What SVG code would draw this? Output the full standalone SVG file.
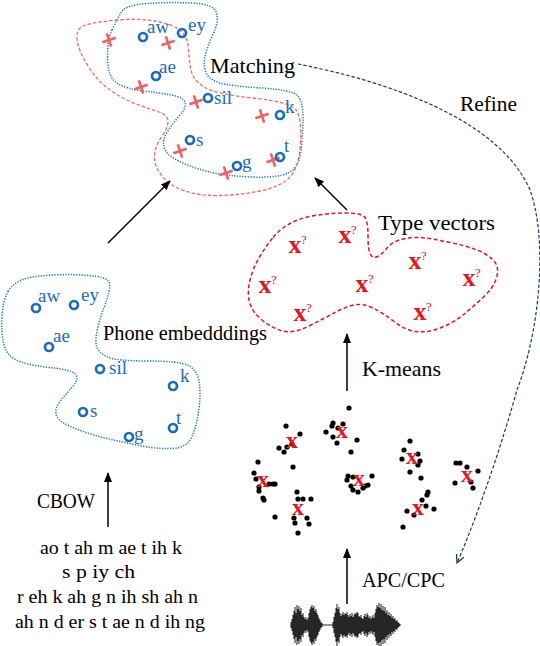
<svg xmlns="http://www.w3.org/2000/svg" width="540" height="646" viewBox="0 0 540 646">
<defs>
<style>
.lbl{font-family:"Liberation Serif","DejaVu Serif",serif;font-size:22px;fill:#000}
.ph{font-family:"Liberation Serif","DejaVu Serif",serif;font-size:19px;fill:#1a6bbd}
.seq{font-family:"Liberation Serif","DejaVu Serif",serif;font-size:18px;fill:#000}
.bo{fill:none;stroke:#1a6bbd;stroke-width:2.7}
.cr{fill:none;stroke:#ef615c;stroke-width:2.6}
.xm{font-family:"Liberation Serif","DejaVu Serif",serif;font-size:26px;font-weight:bold;fill:#e8141b;text-anchor:middle}
.q{font-family:"Liberation Serif","DejaVu Serif",serif;font-size:13px;fill:#e8141b}
.blueout{fill:none;stroke:#1a78c8;stroke-width:1.5;stroke-dasharray:1.3 1.4}
.redout{fill:none;stroke:#ef6a65;stroke-width:1.3;stroke-dasharray:3.5 2}
.tvout{fill:none;stroke:#e8141b;stroke-width:1.5;stroke-dasharray:4 2.5}
.arr{fill:none;stroke:#000;stroke-width:1.5}
.dot{fill:#000}
</style>
<marker id="ah" viewBox="0 0 10 10" refX="9" refY="5" markerWidth="10" markerHeight="10" markerUnits="userSpaceOnUse" orient="auto">
<path d="M0,1 L10,5 L0,9 z" fill="#000"/>
</marker>
<marker id="oh" viewBox="0 0 10 10" refX="9" refY="5" markerWidth="10" markerHeight="10" markerUnits="userSpaceOnUse" orient="auto">
<path d="M1,1 L9,5 L1,9" fill="none" stroke="#1f3864" stroke-width="1.3"/>
</marker>
<path id="crs" d="M-7,0H7M0,-7V7"/>
</defs>

<g id="matching-cluster">
<path class="blueout" d="M112,30 Q117,20 121,12.5 Q125,5 147.5,3.5 Q170,2 192,3 Q214,4 216.5,13 Q219,22 213,34.5 Q207,47 205,57 Q203,67 206.5,73.5 Q210,80 220,83 Q230,86 261.5,88 Q293,90 298,96 Q303,102 303,117.5 Q303,133 301,150.5 Q299,168 288,173 Q277,178 252,177 Q227,176 210,172 Q193,168 179.5,161.5 Q166,155 164,147.5 Q162,140 167.5,131.5 Q173,123 180,115 Q187,107 185,102 Q183,97 171.5,95 Q160,93 143.5,91 Q127,89 117.5,83.5 Q108,78 107.5,59 Q107,40 112,30 Z"/>
<path class="redout" d="M88,66 Q78,50 77,39 Q76,28 85.5,25 Q95,22 117.5,20 Q140,18 157.5,21.5 Q175,25 181.5,31.5 Q188,38 188.5,49 Q189,60 191,70 Q193,80 204,87 Q215,94 252.5,98 Q290,102 296,110 Q302,118 300.5,143 Q299,168 289.5,177.5 Q280,187 260,191 Q240,195 220,195.5 Q200,196 185,191 Q170,186 162,176 Q154,166 154.5,156 Q155,146 161.5,137 Q168,128 168,121.5 Q168,115 159,112 Q150,109 137.5,104.5 Q125,100 111.5,91 Q98,82 88,66 Z"/>
<use href="#crs" class="cr" transform="translate(109,40) rotate(-18)"/>
<use href="#crs" class="cr" transform="translate(168,43) rotate(-18)"/>
<use href="#crs" class="cr" transform="translate(141,87) rotate(-18)"/>
<use href="#crs" class="cr" transform="translate(196,102) rotate(-18)"/>
<use href="#crs" class="cr" transform="translate(262,116) rotate(-18)"/>
<use href="#crs" class="cr" transform="translate(180,151) rotate(-18)"/>
<use href="#crs" class="cr" transform="translate(226,173) rotate(-18)"/>
<use href="#crs" class="cr" transform="translate(273,160) rotate(-18)"/>
<circle class="bo" cx="143" cy="37" r="4"/><text class="ph" x="147" y="33">aw</text>
<circle class="bo" cx="182" cy="33" r="4"/><text class="ph" x="188" y="31">ey</text>
<circle class="bo" cx="156" cy="76" r="4"/><text class="ph" x="159" y="73">ae</text>
<circle class="bo" cx="208" cy="98" r="4"/><text class="ph" x="214" y="104">sil</text>
<circle class="bo" cx="280" cy="115" r="4"/><text class="ph" x="285" y="113">k</text>
<circle class="bo" cx="190" cy="140" r="4"/><text class="ph" x="196" y="146">s</text>
<circle class="bo" cx="237" cy="166" r="4"/><text class="ph" x="242" y="168">g</text>
<circle class="bo" cx="280" cy="157" r="4"/><text class="ph" x="284" y="152">t</text>
<text class="lbl" x="210" y="73" textLength="85" lengthAdjust="spacingAndGlyphs">Matching</text>
</g>

<g id="type-vectors">
<path class="tvout" d="M273,237.5 Q280,229 290,223.5 Q300,218 315,215.5 Q330,213 346,213 Q362,213 365,217.5 Q368,222 368,236 Q368,250 370.5,254.5 Q373,259 377.5,256.5 Q382,254 387,248 Q392,242 401,239.5 Q410,237 420,237.5 Q430,238 452.5,243 Q475,248 484.5,253.5 Q494,259 496.5,265 Q499,271 496,279.5 Q493,288 483,297.5 Q473,307 463,315 Q453,323 440,328 Q427,333 416,331.5 Q405,330 394,321.5 Q383,313 373,308 Q363,303 354,305 Q345,307 335,312.5 Q325,318 309,326 Q293,334 282.5,331 Q272,328 262,320 Q252,312 249.5,302 Q247,292 250,280 Q253,268 259.5,257 Q266,246 273,237.5 Z"/>
<text class="xm" x="295" y="253">x</text><text class="q" x="301" y="244">?</text>
<text class="xm" x="345" y="243">x</text><text class="q" x="351" y="234">?</text>
<text class="xm" x="415" y="269">x</text><text class="q" x="421" y="260">?</text>
<text class="xm" x="265" y="293">x</text><text class="q" x="271" y="284">?</text>
<text class="xm" x="362" y="292">x</text><text class="q" x="368" y="283">?</text>
<text class="xm" x="469" y="286">x</text><text class="q" x="475" y="277">?</text>
<text class="xm" x="300" y="321">x</text><text class="q" x="306" y="312">?</text>
<text class="xm" x="420" y="320">x</text><text class="q" x="426" y="311">?</text>
<text class="lbl" x="378" y="230" textLength="117" lengthAdjust="spacingAndGlyphs">Type vectors</text>
</g>

<g id="phone-embeddings">
<path class="blueout" d="M8,291.5 Q13,283 23,279.5 Q33,276 53,275 Q73,274 89,275.5 Q105,277 108,280.5 Q111,284 109,292 Q107,300 103.5,309 Q100,318 97.5,329 Q95,340 96.5,346 Q98,352 106.5,356.5 Q115,361 147.5,361 Q180,361 188.5,365.5 Q197,370 199,381 Q201,392 199,408.5 Q197,425 192,436.5 Q187,448 172,448.5 Q157,449 142,446 Q127,443 113.5,440 Q100,437 89,433.5 Q78,430 67.5,425 Q57,420 56,414 Q55,408 60,401.5 Q65,395 71,388.5 Q77,382 77,378 Q77,374 71,371.5 Q65,369 49,367.5 Q33,366 20,361.5 Q7,357 4,345 Q1,333 2,316.5 Q3,300 8,291.5 Z"/>
<circle class="bo" cx="36" cy="308" r="4"/><text class="ph" x="38" y="302">aw</text>
<circle class="bo" cx="74" cy="305" r="4"/><text class="ph" x="81" y="301">ey</text>
<circle class="bo" cx="49" cy="347" r="4"/><text class="ph" x="53" y="342">ae</text>
<circle class="bo" cx="100" cy="369" r="4"/><text class="ph" x="109" y="374">sil</text>
<circle class="bo" cx="173" cy="386" r="4"/><text class="ph" x="180" y="382">k</text>
<circle class="bo" cx="83" cy="412" r="4"/><text class="ph" x="90" y="417">s</text>
<circle class="bo" cx="129" cy="437" r="4"/><text class="ph" x="134" y="440">g</text>
<circle class="bo" cx="173" cy="428" r="4"/><text class="ph" x="176" y="424">t</text>
<text class="lbl" x="103" y="340" style="font-size:20px" textLength="164" lengthAdjust="spacingAndGlyphs">Phone embedddings</text>
</g>

<g id="kmeans-scatter">
<circle class="dot" cx="349" cy="408" r="2.6"/><circle class="dot" cx="286" cy="426" r="2.6"/><circle class="dot" cx="300" cy="434" r="2.6"/><circle class="dot" cx="279" cy="448" r="2.6"/><circle class="dot" cx="284" cy="452" r="2.6"/><circle class="dot" cx="287" cy="447" r="2.6"/><circle class="dot" cx="292" cy="444" r="2.6"/><circle class="dot" cx="293" cy="467" r="2.6"/>
<circle class="dot" cx="258" cy="462" r="2.6"/><circle class="dot" cx="254" cy="473" r="2.6"/><circle class="dot" cx="256" cy="479" r="2.6"/><circle class="dot" cx="259" cy="487" r="2.6"/><circle class="dot" cx="259" cy="491" r="2.6"/><circle class="dot" cx="263" cy="498" r="2.6"/><circle class="dot" cx="264" cy="500" r="2.6"/><circle class="dot" cx="269" cy="484" r="2.6"/><circle class="dot" cx="273" cy="484" r="2.6"/><circle class="dot" cx="275" cy="484" r="2.6"/>
<circle class="dot" cx="297" cy="492" r="2.6"/><circle class="dot" cx="298" cy="499" r="2.6"/><circle class="dot" cx="303" cy="499" r="2.6"/><circle class="dot" cx="311" cy="499" r="2.6"/><circle class="dot" cx="275" cy="517" r="2.6"/><circle class="dot" cx="294" cy="518" r="2.6"/><circle class="dot" cx="295" cy="523" r="2.6"/><circle class="dot" cx="307" cy="518" r="2.6"/><circle class="dot" cx="309" cy="524" r="2.6"/><circle class="dot" cx="298" cy="533" r="2.6"/>
<circle class="dot" cx="333" cy="423" r="2.6"/><circle class="dot" cx="332" cy="426" r="2.6"/><circle class="dot" cx="338" cy="428" r="2.6"/><circle class="dot" cx="343" cy="424" r="2.6"/><circle class="dot" cx="326" cy="432" r="2.6"/><circle class="dot" cx="333" cy="437" r="2.6"/><circle class="dot" cx="337" cy="443" r="2.6"/><circle class="dot" cx="357" cy="440" r="2.6"/><circle class="dot" cx="351" cy="452" r="2.6"/>
<circle class="dot" cx="348" cy="476" r="2.6"/><circle class="dot" cx="347" cy="480" r="2.6"/><circle class="dot" cx="353" cy="477" r="2.6"/><circle class="dot" cx="351" cy="486" r="2.6"/><circle class="dot" cx="353" cy="490" r="2.6"/><circle class="dot" cx="358" cy="492" r="2.6"/><circle class="dot" cx="363" cy="488" r="2.6"/><circle class="dot" cx="365" cy="486" r="2.6"/><circle class="dot" cx="368" cy="485" r="2.6"/><circle class="dot" cx="372" cy="476" r="2.6"/>
<circle class="dot" cx="410" cy="441" r="2.6"/><circle class="dot" cx="404" cy="450" r="2.6"/><circle class="dot" cx="402" cy="459" r="2.6"/><circle class="dot" cx="418" cy="454" r="2.6"/><circle class="dot" cx="420" cy="461" r="2.6"/><circle class="dot" cx="418" cy="465" r="2.6"/><circle class="dot" cx="410" cy="472" r="2.6"/><circle class="dot" cx="421" cy="478" r="2.6"/>
<circle class="dot" cx="456" cy="463" r="2.6"/><circle class="dot" cx="460" cy="463" r="2.6"/><circle class="dot" cx="467" cy="467" r="2.6"/><circle class="dot" cx="478" cy="471" r="2.6"/><circle class="dot" cx="455" cy="483" r="2.6"/><circle class="dot" cx="471" cy="482" r="2.6"/><circle class="dot" cx="473" cy="488" r="2.6"/>
<circle class="dot" cx="428" cy="492" r="2.6"/><circle class="dot" cx="427" cy="495" r="2.6"/><circle class="dot" cx="422" cy="500" r="2.6"/><circle class="dot" cx="426" cy="506" r="2.6"/><circle class="dot" cx="434" cy="509" r="2.6"/><circle class="dot" cx="407" cy="511" r="2.6"/><circle class="dot" cx="414" cy="515" r="2.6"/><circle class="dot" cx="403" cy="527" r="2.6"/>
<text class="xm" x="292" y="448" style="font-size:24px">x</text>
<text class="xm" x="342" y="438" style="font-size:24px">x</text>
<text class="xm" x="263" y="487" style="font-size:24px">x</text>
<text class="xm" x="359" y="486" style="font-size:24px">x</text>
<text class="xm" x="298" y="515" style="font-size:24px">x</text>
<text class="xm" x="412" y="464" style="font-size:24px">x</text>
<text class="xm" x="467" y="482" style="font-size:24px">x</text>
<text class="xm" x="418" y="515" style="font-size:24px">x</text>
<text class="lbl" x="362" y="376" textLength="79" lengthAdjust="spacingAndGlyphs">K-means</text>
</g>

<g id="phone-sequences">
<text class="lbl" x="37" y="508" style="font-size:20px" textLength="58" lengthAdjust="spacingAndGlyphs">CBOW</text>
<text class="seq" x="40" y="554" textLength="142" lengthAdjust="spacingAndGlyphs">ao t ah m ae t ih k</text>
<text class="seq" x="62" y="578" textLength="73" lengthAdjust="spacingAndGlyphs">s p iy ch</text>
<text class="seq" x="17" y="603" textLength="181" lengthAdjust="spacingAndGlyphs">r eh k ah g n ih sh ah n</text>
<text class="seq" x="15" y="628" textLength="190" lengthAdjust="spacingAndGlyphs">ah n d er s t ae n d ih ng</text>
</g>

<g id="waveform">
<path fill="none" stroke="#262626" stroke-width="1.05" d="M291 622v6M292 619v12M293 615v20M294 611v28M295 607v36M296 613v24M297 605v40M298 609v32M299 606v38M300 611v28M301 608v34M302 615v20M303 613v24M304 617v16M305 619v12M306 617v16M307 620v10M308 618v14M309 613v24M310 609v32M311 607v36M312 605v40M313 608v34M314 606v38M315 611v28M316 609v32M317 613v24M318 615v20M319 618v14M320 620v10M321 622v6M322 623v4M322 625H334M333 622v6M334 617v16M335 613v24M336 608v34M337 604v42M338 609v32M339 607v36M340 613v24M341 616v18M342 614v22M343 612v26M344 615v20M345 613v24M346 614v22M347 612v26M348 615v20M349 617v16M350 614v22M351 616v18M352 613v24M353 617v16M354 615v20M355 613v24M356 614v22M357 612v26M358 613v24M359 616v18M360 617v16M361 615v20M362 618v14M363 619v12M364 616v18M365 614v22M366 617v16M367 613v24M368 615v20M369 618v14M370 616v18M371 619v12M372 617v16M373 615v20M374 618v14M375 613v24M376 609v32M377 605v40M378 607v36M379 603v44M380 608v34M381 604v42M382 610v30M383 606v38M384 611v28M385 607v36M386 613v24M387 610v30M388 615v20M389 612v26M390 616v18M391 614v22M392 618v14M393 616v18M394 619v12M395 618v14M396 621v8M397 620v10M398 622v6M399 623v4M400 624v2"/>
<text class="lbl" x="362" y="587" textLength="83" lengthAdjust="spacingAndGlyphs">APC/CPC</text>
</g>

<g id="connectors">
<line class="arr" x1="108" y1="527" x2="108" y2="473" marker-end="url(#ah)"/>
<line class="arr" x1="108" y1="243" x2="170" y2="181" marker-end="url(#ah)"/>
<line class="arr" x1="347" y1="210" x2="315" y2="178" marker-end="url(#ah)"/>
<line class="arr" x1="347" y1="391" x2="347" y2="334" marker-end="url(#ah)"/>
<line class="arr" x1="347" y1="604" x2="347" y2="549" marker-end="url(#ah)"/>
<path fill="none" stroke="#1f3864" stroke-width="1.2" stroke-dasharray="3.5 2" d="M298,64 C390,82 500,120 530,190 C548,240 540,330 517,390 C503,440 480,510 457,563" marker-end="url(#oh)"/>
<text class="lbl" x="460" y="111" textLength="57" lengthAdjust="spacingAndGlyphs">Refine</text>
</g>
</svg>
